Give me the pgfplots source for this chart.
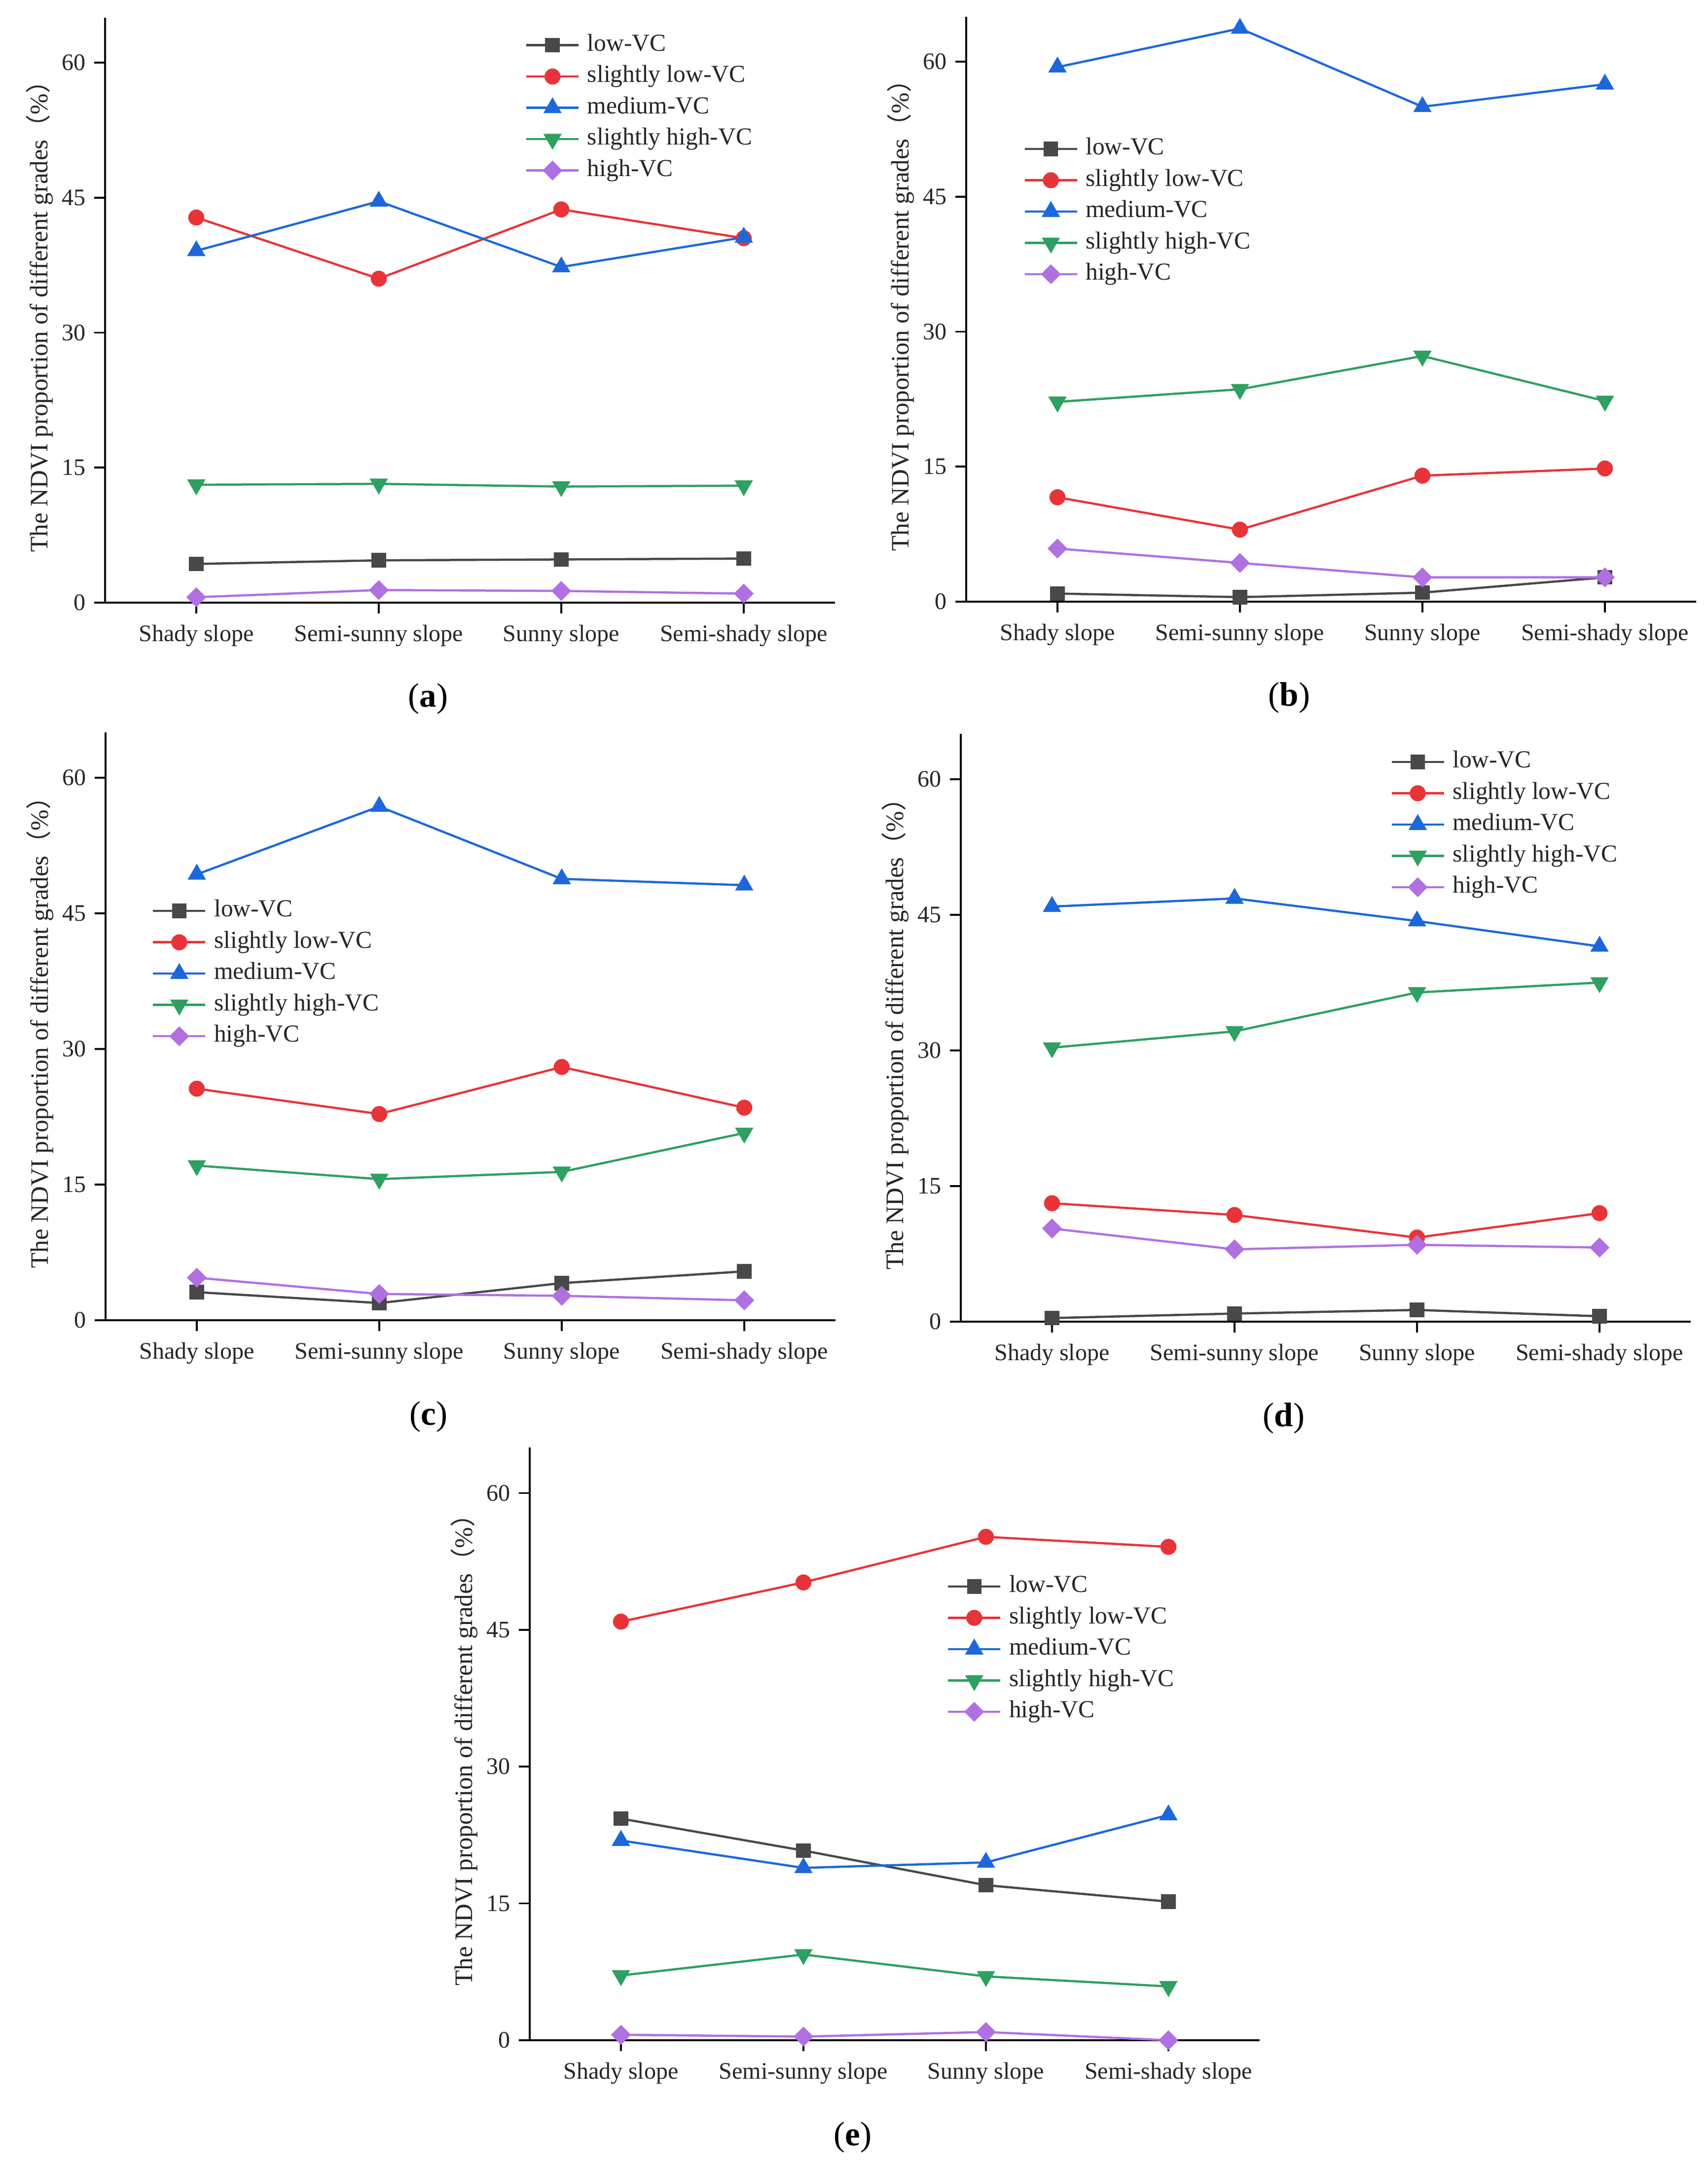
\documentclass[border=0pt]{standalone}
\usepackage{fontspec}
\setmainfont{Liberation Serif}
\newfontfamily\cjk{Noto Sans CJK SC}
\usepackage{pgfplots}
\usepackage{pgfplotstable}
\pgfplotsset{compat=1.18}
\definecolor{cgray}{RGB}{72,72,72}
\definecolor{cred}{RGB}{232,52,56}
\definecolor{cblue}{RGB}{28,104,218}
\definecolor{cgreen}{RGB}{46,160,96}
\definecolor{cpurple}{RGB}{176,112,226}

\pgfplotstableread{
x low slow med shigh high
1 4.3 42.8 39.1 13.1 0.6
2 4.7 36.0 44.6 13.2 1.4
3 4.8 43.7 37.3 12.9 1.3
4 4.9 40.5 40.6 13.0 1.0
}\tabA
\pgfplotstableread{
x low slow med shigh high
1 0.9 11.6 59.4 22.2 5.9
2 0.5 8.0 63.7 23.6 4.3
3 1.0 14.0 55.0 27.3 2.7
4 2.7 14.8 57.5 22.3 2.7
}\tabB
\pgfplotstableread{
x low slow med shigh high
1 3.1 25.6 49.3 17.1 4.7
2 1.9 22.8 56.8 15.6 2.9
3 4.1 28.0 48.8 16.4 2.7
4 5.4 23.5 48.1 20.7 2.2
}\tabC
\pgfplotstableread{
x low slow med shigh high
1 0.4 13.1 45.9 30.3 10.3
2 0.9 11.8 46.8 32.1 8.0
3 1.3 9.3 44.3 36.4 8.5
4 0.6 12.0 41.5 37.5 8.2
}\tabD
\pgfplotstableread{
x low slow med shigh high
1 24.3 45.9 21.9 7.1 0.6
2 20.8 50.2 18.9 9.4 0.4
3 17.0 55.2 19.5 7.0 0.9
4 15.2 54.1 24.7 5.9 0.0
}\tabE

\pgfplotsset{
  panel/.style={
    scale only axis, width=296pt, height=237.2pt,
    anchor=south west,
    xmin=0.5, xmax=4.5, ymin=0, ymax=65,
    axis x line*=bottom, axis y line*=left,
    axis line style={line width=0.75pt, black},
    tick style={line width=0.75pt, black},
    tick align=outside, major tick length=4.4pt,
    xtick={1,2,3,4},
    xticklabels={Shady slope,Semi-sunny slope,Sunny slope,Semi-shady slope},
    ytick={0,15,30,45,60},
    minor tick num=0,
    clip=false,
    /pgf/number format/assume math mode=true,
    ticklabel style={font=\fontsize{9.6}{11}\selectfont, text=black!85},
    xticklabel style={yshift=-1.1pt},
    ylabel={The NDVI proportion of different grades{\cjk （}\%{\cjk ）}},
    ylabel style={font=\fontsize{10.2}{11}\selectfont, text=black!85, at={(rel axis cs:-0.109,0.5)}, anchor=north, inner sep=0pt},
    legend cell align=left,
    legend style={anchor=north west, draw=none, fill=none, inner sep=0pt,
      font=\fontsize{9.9}{11}\selectfont, text=black!85, row sep=0.3pt,
      nodes={inner sep=1.5pt, text height=7pt, text depth=2.4pt},
      /tikz/every odd column/.append style={column sep=1.6pt}},
    legend image code/.code={\draw[mark repeat=2,mark phase=2] plot coordinates {(0pt,0pt) (10.6pt,0pt) (21.2pt,0pt)};},
  },
  s1/.style={cgray, line width=0.9pt, mark=square*, mark size=2.5pt, mark options={solid, fill=cgray}},
  s2/.style={cred, line width=0.9pt, mark=*, mark size=2.8pt, mark options={solid, fill=cred}},
  s3/.style={cblue, line width=0.9pt, mark=triangle*, mark size=3.4pt, mark options={solid, fill=cblue}},
  s4/.style={cgreen, line width=0.9pt, mark=triangle*, mark size=3.4pt, mark options={solid, fill=cgreen, rotate=180}},
  s5/.style={cpurple, line width=0.9pt, mark=square*, mark size=2.4pt, mark options={solid, fill=cpurple, rotate=45}},
}
\newcommand{\panelcap}[1]{\node[font=\fontsize{13.8}{15}\selectfont, anchor=center] at (rel axis cs:0.4426,-0.164) {(\textbf{#1})};}

\begin{document}
\begin{tikzpicture}
\path (0,0) rectangle (692.6pt,878.4pt);

% (a)
\begin{axis}[panel, at={(42.6pt,634pt)}, legend style={at={(rel axis cs:0.575,0.980)}}]
\addplot[s1] table[x=x,y=low]{\tabA}; \addlegendentry{low-VC}
\addplot[s2] table[x=x,y=slow]{\tabA}; \addlegendentry{slightly low-VC}
\addplot[s3] table[x=x,y=med]{\tabA}; \addlegendentry{medium-VC}
\addplot[s4] table[x=x,y=shigh]{\tabA}; \addlegendentry{slightly high-VC}
\addplot[s5] table[x=x,y=high]{\tabA}; \addlegendentry{high-VC}
\panelcap{a}
\end{axis}

% (b)
\begin{axis}[panel, at={(391.8pt,634.4pt)}, legend style={at={(rel axis cs:0.078,0.801)}}]
\addplot[s1] table[x=x,y=low]{\tabB}; \addlegendentry{low-VC}
\addplot[s2] table[x=x,y=slow]{\tabB}; \addlegendentry{slightly low-VC}
\addplot[s3] table[x=x,y=med]{\tabB}; \addlegendentry{medium-VC}
\addplot[s4] table[x=x,y=shigh]{\tabB}; \addlegendentry{slightly high-VC}
\addplot[s5] table[x=x,y=high]{\tabB}; \addlegendentry{high-VC}
\panelcap{b}
\end{axis}

% (c)
\begin{axis}[panel, height=238.4pt, at={(42.8pt,343.0pt)}, legend style={at={(rel axis cs:0.063,0.723)}}]
\addplot[s1] table[x=x,y=low]{\tabC}; \addlegendentry{low-VC}
\addplot[s2] table[x=x,y=slow]{\tabC}; \addlegendentry{slightly low-VC}
\addplot[s3] table[x=x,y=med]{\tabC}; \addlegendentry{medium-VC}
\addplot[s4] table[x=x,y=shigh]{\tabC}; \addlegendentry{slightly high-VC}
\addplot[s5] table[x=x,y=high]{\tabC}; \addlegendentry{high-VC}
\panelcap{c}
\end{axis}

% (d)
\begin{axis}[panel, height=238.4pt, at={(389.6pt,342.4pt)}, legend style={at={(rel axis cs:0.588,0.979)}}]
\addplot[s1] table[x=x,y=low]{\tabD}; \addlegendentry{low-VC}
\addplot[s2] table[x=x,y=slow]{\tabD}; \addlegendentry{slightly low-VC}
\addplot[s3] table[x=x,y=med]{\tabD}; \addlegendentry{medium-VC}
\addplot[s4] table[x=x,y=shigh]{\tabD}; \addlegendentry{slightly high-VC}
\addplot[s5] table[x=x,y=high]{\tabD}; \addlegendentry{high-VC}
\panelcap{d}
\end{axis}

% (e)
\begin{axis}[panel, height=240.4pt, at={(214.8pt,51.0pt)}, legend style={at={(rel axis cs:0.571,0.792)}}]
\addplot[s1] table[x=x,y=low]{\tabE}; \addlegendentry{low-VC}
\addplot[s2] table[x=x,y=slow]{\tabE}; \addlegendentry{slightly low-VC}
\addplot[s3] table[x=x,y=med]{\tabE}; \addlegendentry{medium-VC}
\addplot[s4] table[x=x,y=shigh]{\tabE}; \addlegendentry{slightly high-VC}
\addplot[s5] table[x=x,y=high]{\tabE}; \addlegendentry{high-VC}
\panelcap{e}
\end{axis}
\end{tikzpicture}
\end{document}
